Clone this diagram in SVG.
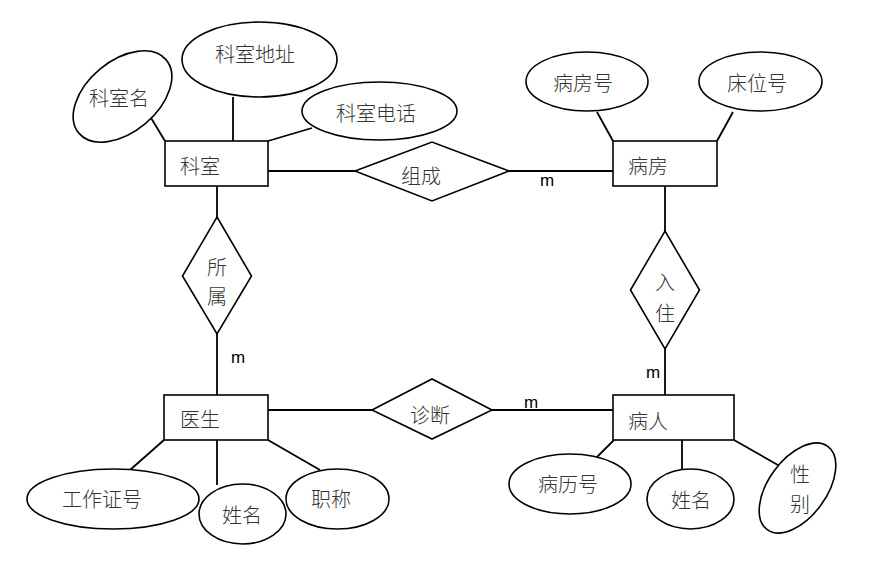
<svg xmlns="http://www.w3.org/2000/svg" width="887" height="567" viewBox="0 0 887 567">
<style>
.shape{fill:#fff;stroke:#000;stroke-width:1.6}
.ln{stroke:#000;stroke-width:1.8;fill:none}
.t{font-family:"Noto Sans CJK SC","Noto Sans",sans-serif;font-size:20px;font-weight:300;fill:#333;dominant-baseline:central}
.c{text-anchor:middle}
.m{font-family:"Liberation Sans",Arial,sans-serif;font-size:17px;fill:#000}
</style>
<rect width="887" height="567" fill="#fff"/>
<g id="connectors">
<line class="ln" x1="148" y1="113" x2="165" y2="141"/>
<line class="ln" x1="233" y1="97" x2="233" y2="141"/>
<line class="ln" x1="268" y1="141" x2="312" y2="128"/>
<line class="ln" x1="268" y1="171" x2="355" y2="171"/>
<line class="ln" x1="509" y1="171" x2="613" y2="171"/>
<line class="ln" x1="597" y1="112" x2="613" y2="141"/>
<line class="ln" x1="733" y1="112" x2="717" y2="141"/>
<line class="ln" x1="217" y1="186" x2="217" y2="217"/>
<line class="ln" x1="217" y1="334" x2="217" y2="395"/>
<line class="ln" x1="665" y1="186" x2="665" y2="231"/>
<line class="ln" x1="665" y1="349" x2="665" y2="395"/>
<line class="ln" x1="268" y1="410" x2="372" y2="410"/>
<line class="ln" x1="492" y1="410" x2="613" y2="410"/>
<line class="ln" x1="164" y1="440" x2="130" y2="470"/>
<line class="ln" x1="217" y1="440" x2="217" y2="485"/>
<line class="ln" x1="268" y1="440" x2="320" y2="470"/>
<line class="ln" x1="614" y1="440" x2="597" y2="457"/>
<line class="ln" x1="682" y1="440" x2="682" y2="469"/>
<line class="ln" x1="734" y1="440" x2="785" y2="469"/>
<text class="m" x="540" y="186">m</text>
<text class="m" x="231" y="363">m</text>
<text class="m" x="646" y="378">m</text>
<text class="m" x="524" y="408">m</text>
</g>
<g id="keshi">
<rect class="shape" x="165" y="141" width="103" height="45"/>
<text class="t" x="180" y="165">科室</text>
</g>
<g id="keshiming">
<ellipse class="shape" cx="122.5" cy="96.5" rx="57" ry="35.5" transform="rotate(-40 122.5 96.5)"/>
<text class="t c" x="119" y="97">科室名</text>
</g>
<g id="keshidizhi">
<ellipse class="shape" cx="259.5" cy="59.5" rx="77.5" ry="37.5"/>
<text class="t c" x="255" y="53">科室地址</text>
</g>
<g id="keshidianhua">
<ellipse class="shape" cx="379.5" cy="111" rx="77.5" ry="29"/>
<text class="t c" x="376" y="112">科室电话</text>
</g>
<g id="zucheng">
<polygon class="shape" points="355,171 432,142 509,171 432,201"/>
<text class="t c" x="421" y="175">组成</text>
</g>
<g id="bingfang">
<rect class="shape" x="613" y="141" width="104" height="45"/>
<text class="t" x="628" y="165">病房</text>
</g>
<g id="bingfanghao">
<ellipse class="shape" cx="587" cy="81.5" rx="61" ry="29.5"/>
<text class="t c" x="583" y="82">病房号</text>
</g>
<g id="chuangweihao">
<ellipse class="shape" cx="760.5" cy="81.5" rx="61.5" ry="29.5"/>
<text class="t c" x="757" y="82">床位号</text>
</g>
<g id="suoshu">
<polygon class="shape" points="217,217 251.5,276 217,334 182.5,276"/>
<text class="t c" x="217" y="266">所</text>
<text class="t c" x="217" y="295">属</text>
</g>
<g id="ruzhu">
<polygon class="shape" points="665,231 699.5,290 665,349 630.5,290"/>
<text class="t c" x="665" y="281">入</text>
<text class="t c" x="665" y="312">住</text>
</g>
<g id="yisheng">
<rect class="shape" x="164" y="395" width="104" height="45"/>
<text class="t" x="180" y="418">医生</text>
</g>
<g id="zhenduan">
<polygon class="shape" points="372,410 432,379 492,410 432,439"/>
<text class="t c" x="430" y="414">诊断</text>
</g>
<g id="bingren">
<rect class="shape" x="613" y="395" width="121" height="45"/>
<text class="t" x="628" y="420">病人</text>
</g>
<g id="gongzuozhenghao">
<ellipse class="shape" cx="113" cy="499" rx="86" ry="30"/>
<text class="t c" x="102" y="498">工作证号</text>
</g>
<g id="xingming1">
<ellipse class="shape" cx="242.5" cy="514" rx="43.5" ry="30"/>
<text class="t c" x="242" y="514">姓名</text>
</g>
<g id="zhicheng">
<ellipse class="shape" cx="337.5" cy="499" rx="51.5" ry="30"/>
<text class="t c" x="331" y="498">职称</text>
</g>
<g id="binglihao">
<ellipse class="shape" cx="570" cy="484" rx="61" ry="30"/>
<text class="t c" x="568" y="483">病历号</text>
</g>
<g id="xingming2">
<ellipse class="shape" cx="690.5" cy="499" rx="43.5" ry="30"/>
<text class="t c" x="691" y="499">姓名</text>
</g>
<g id="xingbie">
<ellipse class="shape" cx="797.5" cy="488" rx="51.5" ry="29" transform="rotate(-54 797.5 488)"/>
<text class="t c" x="800" y="473">性</text>
<text class="t c" x="800" y="503">别</text>
</g>
</svg>
